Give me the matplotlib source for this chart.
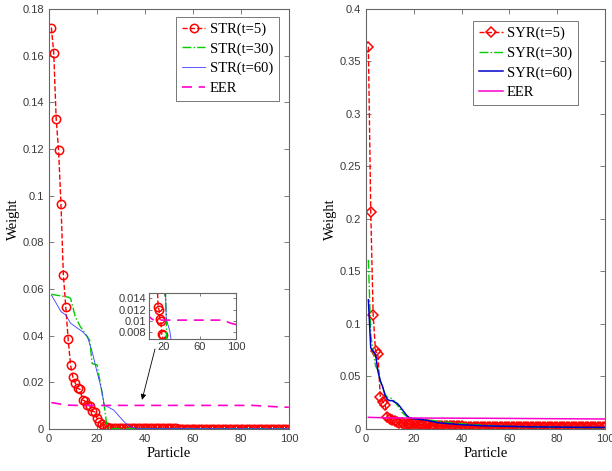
import numpy as np
import matplotlib
matplotlib.use('Agg')
import matplotlib.pyplot as plt

plt.rcParams['font.family'] = ['Liberation Serif', 'DejaVu Serif']

# 粒子编号
particles = list(range(1, 101))

# 左图：STR 权重
str5 = [0.172, 0.161, 0.133, 0.1195, 0.0965, 0.066, 0.0524, 0.0384, 0.0274, 0.0221,
        0.0196, 0.0174, 0.0170, 0.0124, 0.0120, 0.0103, 0.0099, 0.0076, 0.0074, 0.0046,
        0.0031, 0.0020, 0.0013, 0.0009, 0.0006, 0.0005, 0.0005, 0.0004, 0.0004, 0.0004,
        0.0004, 0.0004, 0.0004, 0.0004, 0.0003, 0.0003, 0.0003, 0.0003, 0.0003, 0.0003,
        0.0003, 0.0003, 0.0003, 0.0003, 0.0003, 0.0003, 0.0003, 0.0003, 0.0003, 0.0003,
        0.0003, 0.0003, 0.0003, 0.0002, 0.0002, 0.0002, 0.0002, 0.0002, 0.0002, 0.0002,
        0.0002, 0.0002, 0.0002, 0.0002, 0.0002, 0.0002, 0.0002, 0.0002, 0.0002, 0.0002,
        0.0002, 0.0002, 0.0002, 0.0002, 0.0002, 0.0002, 0.0002, 0.0002, 0.0002, 0.0002,
        0.0001, 0.0001, 0.0001, 0.0001, 0.0001, 0.0001, 0.0001, 0.0001, 0.0001, 0.0001,
        0.0001, 0.0001, 0.0001, 0.0001, 0.0001, 0.0001, 0.0001, 0.0001, 0.0001, 0.0001]
str30_x = [1, 8, 9, 11, 13, 17, 18, 20, 21, 23, 24, 25, 26, 100]
str30_y = [0.0577, 0.0565, 0.056, 0.048, 0.044, 0.038, 0.028, 0.0275, 0.022, 0.0103,
           0.0024, 0.0005, 0.0002, 0.0001]
str60_x = [1, 3, 5, 7, 9, 12, 14, 16, 18, 20, 22, 23, 27, 30, 32, 34, 36, 38, 100]
str60_y = [0.0574, 0.0539, 0.0503, 0.0489, 0.0453, 0.0431, 0.0417, 0.0396, 0.0331, 0.0246,
           0.0167, 0.0103, 0.0081, 0.0046, 0.0024, 0.0009, 0.0004, 0.0002, 0.0001]
eer_l_x = [1, 3, 5, 8, 12, 85, 90, 95, 100]
eer_l_y = [0.0113, 0.0110, 0.0106, 0.0102, 0.0101, 0.0101, 0.0098, 0.0095, 0.0093]

# 右图：SYR 权重
syr5 = [0.364, 0.207, 0.109, 0.074, 0.071, 0.030, 0.026, 0.023, 0.0117, 0.0095,
        0.0082, 0.0072, 0.0065, 0.0060, 0.0056, 0.0052, 0.0049, 0.0047, 0.0045, 0.0043,
        0.0041, 0.0039, 0.0037, 0.0036, 0.0035, 0.0034, 0.0033, 0.0032, 0.0031, 0.0030,
        0.0029, 0.0028, 0.0028, 0.0027, 0.0026, 0.0026, 0.0025, 0.0025, 0.0024, 0.0024,
        0.0023, 0.0023, 0.0023, 0.0022, 0.0022, 0.0022, 0.0021, 0.0021, 0.0021, 0.0021,
        0.0020, 0.0020, 0.0020, 0.0020, 0.0020, 0.0019, 0.0019, 0.0019, 0.0019, 0.0019,
        0.0019, 0.0018, 0.0018, 0.0018, 0.0018, 0.0018, 0.0018, 0.0018, 0.0017, 0.0017,
        0.0017, 0.0017, 0.0017, 0.0017, 0.0017, 0.0017, 0.0016, 0.0016, 0.0016, 0.0016,
        0.0016, 0.0016, 0.0016, 0.0016, 0.0016, 0.0016, 0.0015, 0.0015, 0.0015, 0.0015,
        0.0015, 0.0015, 0.0015, 0.0015, 0.0015, 0.0015, 0.0015, 0.0015, 0.0015, 0.0015]
syr30_x = [1, 2, 3, 4, 5, 6, 7, 8, 9, 10, 11, 12, 13, 14, 15, 16, 17, 18, 19, 20,
           25, 30, 35, 40, 50, 60, 70, 80, 90, 100]
syr30_y = [0.161, 0.090, 0.0736, 0.060, 0.056, 0.045, 0.040, 0.033, 0.030, 0.0295,
           0.029, 0.026, 0.023, 0.020, 0.016, 0.014, 0.012, 0.011, 0.0105, 0.010,
           0.009, 0.0075, 0.0062, 0.005, 0.0035, 0.0025, 0.002, 0.0016, 0.0014, 0.0012]
syr60_x = [1, 2, 3, 4, 5, 6, 7, 8, 9, 10, 11, 12, 13, 14, 15, 16, 17, 18, 19, 20,
           25, 30, 35, 40, 50, 60, 70, 80, 90, 100]
syr60_y = [0.123, 0.077, 0.074, 0.071, 0.055, 0.046, 0.040, 0.032, 0.028, 0.027,
           0.027, 0.0255, 0.0245, 0.022, 0.019, 0.016, 0.013, 0.011, 0.010, 0.0098,
           0.0085, 0.006, 0.005, 0.004, 0.003, 0.0025, 0.002, 0.0018, 0.0016, 0.0015]
eer_r_x = [1, 10, 50, 100]
eer_r_y = [0.0111, 0.0105, 0.0102, 0.0095]

RED = '#ff0000'
GREEN = '#00cc00'
BLUE_L = '#3a3aff'
BLUE = '#0000cc'
MAG = '#ff00cc'
SPINE = '#666666'
TICKC = '#3a3a3a'


def style_axes(ax, tick_size=8):
    for s in ax.spines.values():
        s.set_color(SPINE)
        s.set_linewidth(0.8)
    ax.tick_params(direction='in', top=True, right=True, length=3.5, width=0.6,
                   color=SPINE, labelcolor=TICKC, labelsize=tick_size)
    for lab in ax.get_xticklabels() + ax.get_yticklabels():
        lab.set_family('Liberation Sans')


def add_legend(ax, labels, bbox):
    leg = ax.legend(labels=labels, loc='upper right', bbox_to_anchor=bbox,
                    fancybox=False, framealpha=1, edgecolor='#777777',
                    fontsize=10.5, handlelength=1.6, handletextpad=0.3,
                    labelspacing=0.42, borderpad=0.4, borderaxespad=0)
    leg.get_frame().set_linewidth(0.7)


fig = plt.figure(figsize=(6.12, 4.71), dpi=100)

# 左图
ax1 = fig.add_axes([0.080, 0.0892, 0.392, 0.892])
ax1.plot(particles, str5, '--o', color=RED, lw=1.0, ms=6, mfc='none', mew=1.1)
ax1.plot(str30_x, str30_y, '-.', color=GREEN, lw=1.0)
ax1.plot(str60_x, str60_y, '-', color=BLUE_L, lw=0.6)
ax1.plot(eer_l_x, eer_l_y, '--', color=MAG, lw=1.2, dashes=(6, 4))
ax1.set_xlim(0, 100)
ax1.set_ylim(0, 0.18)
ax1.set_xticks([0, 20, 40, 60, 80, 100])
ax1.set_yticks(np.arange(0, 0.181, 0.02))
ax1.set_yticklabels(['0', '0.02', '0.04', '0.06', '0.08', '0.1', '0.12', '0.14', '0.16', '0.18'])
ax1.set_xlabel('Particle', fontsize=10.5, labelpad=2)
ax1.set_ylabel('Weight', fontsize=10.5, labelpad=2)
style_axes(ax1)
add_legend(ax1, ['STR(t=5)', 'STR(t=30)', 'STR(t=60)', 'EER'], (0.958, 0.981))
ax1.annotate('', xy=(38.8, 0.0125), xytext=(44.2, 0.0343),
             arrowprops=dict(arrowstyle='-|>', color='black', lw=0.6,
                             mutation_scale=8, shrinkA=0, shrinkB=0))

# 局部放大
axi = fig.add_axes([0.2435, 0.2803, 0.1422, 0.0966])
axi.plot(particles, str5, '--o', color=RED, lw=1.0, ms=6, mfc='none', mew=1.1)
axi.plot(str30_x, str30_y, '-.', color=GREEN, lw=1.0)
axi.plot(str60_x, str60_y, '-', color=BLUE_L, lw=0.6)
axi.plot(eer_l_x, eer_l_y, '--', color=MAG, lw=1.2, dashes=(6, 4))
axi.set_xlim(4, 100)
axi.set_ylim(0.0067, 0.0149)
axi.set_xticks([20, 60, 100])
axi.set_yticks([0.008, 0.010, 0.012, 0.014])
axi.set_yticklabels(['0.008', '0.01', '0.012', '0.014'])
style_axes(axi)
axi.tick_params(length=2.5, pad=2)

# 右图
ax2 = fig.add_axes([0.598, 0.0892, 0.3905, 0.892])
ax2.plot(particles, syr5, '--D', color=RED, lw=1.0, ms=5, mfc='none', mew=1.1)
ax2.plot(syr30_x, syr30_y, '-.', color=GREEN, lw=1.0)
ax2.plot(syr60_x, syr60_y, '-', color=BLUE, lw=1.1)
ax2.plot(eer_r_x, eer_r_y, '-', color=MAG, lw=1.1)
ax2.set_xlim(0, 100)
ax2.set_ylim(0, 0.4)
ax2.set_xticks([0, 20, 40, 60, 80, 100])
ax2.set_yticks(np.arange(0, 0.401, 0.05))
ax2.set_yticklabels(['0', '0.05', '0.1', '0.15', '0.2', '0.25', '0.3', '0.35', '0.4'])
ax2.set_xlabel('Particle', fontsize=10.5, labelpad=2)
ax2.set_ylabel('Weight', fontsize=10.5, labelpad=2)
style_axes(ax2)
add_legend(ax2, ['SYR(t=5)', 'SYR(t=30)', 'SYR(t=60)', 'EER'], (0.887, 0.971))

fig.savefig('out.png', dpi=100)
